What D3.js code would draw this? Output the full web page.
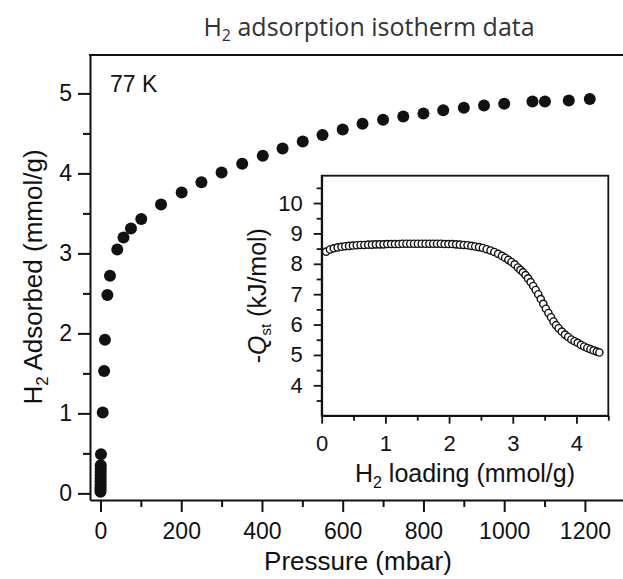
<!DOCTYPE html>
<html>
<head>
<meta charset="utf-8">
<script src="https://cdn.jsdelivr.net/npm/d3@7"></script>
<style>
  body { margin: 0; background: #fff; }
  svg { display: block; font-family: 'Liberation Sans', Arial, sans-serif; }
</style>
</head>
<body>
<script>
// isotherm data, 77 K (pressure in mbar, uptake in mmol/g)
const pressure = [0.05, 0.1, 0.15, 0.2, 0.25, 0.3, 0.35, 0.4, 0.5, 0.6, 1.2, 5.5, 9, 11,
  17, 23.5, 41.6, 57, 75.5, 101, 150, 201, 250, 300, 351, 402, 451, 501, 550, 600,
  649, 700, 750, 800, 849, 900, 950, 1000, 1070, 1101, 1160, 1212];
const adsorbed = [0.02, 0.05, 0.08, 0.11, 0.15, 0.19, 0.23, 0.27, 0.31, 0.35, 0.49, 1.01, 1.53, 1.92,
  2.48, 2.72, 3.05, 3.20, 3.31, 3.43, 3.61, 3.76, 3.89, 4.01, 4.12, 4.22, 4.31, 4.40, 4.48, 4.55,
  4.62, 4.67, 4.71, 4.75, 4.79, 4.82, 4.85, 4.87, 4.90, 4.90, 4.91, 4.93];

// inset: isosteric heat vs loading
const loading = [0.07, 0.13, 0.19, 0.25, 0.31, 0.37, 0.43, 0.49, 0.55, 0.61, 0.67, 0.73, 0.79, 0.85,
  0.91, 0.97, 1.03, 1.09, 1.15, 1.21, 1.27, 1.33, 1.39, 1.45, 1.51, 1.57, 1.63, 1.69, 1.75, 1.81,
  1.87, 1.93, 1.99, 2.05, 2.11, 2.17, 2.23, 2.29, 2.35, 2.41, 2.47, 2.53, 2.59, 2.65, 2.71, 2.77,
  2.83, 2.88, 2.93, 2.98, 3.03, 3.08, 3.12, 3.16, 3.20, 3.24, 3.28, 3.32, 3.36, 3.40, 3.44, 3.48,
  3.52, 3.56, 3.60, 3.64, 3.68, 3.72, 3.77, 3.82, 3.87, 3.92, 3.97, 4.02, 4.07, 4.12, 4.17, 4.22,
  4.27, 4.32, 4.36];
const qst = [8.40, 8.47, 8.51, 8.54, 8.56, 8.58, 8.59, 8.60, 8.61, 8.62, 8.62, 8.63, 8.63, 8.64,
  8.64, 8.64, 8.65, 8.65, 8.65, 8.65, 8.66, 8.66, 8.66, 8.66, 8.66, 8.66, 8.66, 8.66, 8.66, 8.66,
  8.66, 8.65, 8.65, 8.65, 8.64, 8.63, 8.62, 8.61, 8.59, 8.57, 8.55, 8.52, 8.48, 8.44, 8.39, 8.33,
  8.26, 8.20, 8.13, 8.06, 7.98, 7.88, 7.80, 7.72, 7.63, 7.52, 7.40, 7.27, 7.14, 7.00, 6.84, 6.68,
  6.52, 6.38, 6.24, 6.10, 5.98, 5.88, 5.77, 5.67, 5.59, 5.51, 5.45, 5.40, 5.33, 5.28, 5.23, 5.19,
  5.15, 5.11, 5.08];

const mainXTicks = [0, 200, 400, 600, 800, 1000, 1200];
const mainYTicks = [0, 1, 2, 3, 4, 5];
const insetXTicks = [0, 1, 2, 3, 4];
const insetYTicks = [4, 5, 6, 7, 8, 9, 10];

const svg = d3.select('body').append('svg').attr('width', 623).attr('height', 579);
const ink = '#111';
const fmt = d3.format('d');

// main scales
const x = d3.scaleLinear().domain([-26, 1300]).range([90, 625.3]);
const y = d3.scaleLinear().domain([-0.083, 5.48]).range([500, 55]);

// title
const title = svg.append('text')
  .attr('x', 369).attr('y', 36)
  .attr('text-anchor', 'middle')
  .style('font-family', "'Open Sans', sans-serif")
  .style('font-size', '25px')
  .attr('fill', '#333');
title.append('tspan').text('H');
title.append('tspan').text('2').style('font-size', '16px').attr('dy', 5);
title.append('tspan').text(' adsorption isotherm data').attr('dy', -5);

// main axes
function styleAxis(g, size) {
  g.select('.domain').attr('stroke', ink).attr('stroke-width', 2);
  g.selectAll('.tick line').attr('stroke', ink).attr('stroke-width', 2);
  g.selectAll('.tick text').attr('fill', ink).style('font-size', size + 'px').style('font-family', "'Liberation Sans', Arial, sans-serif");
}

const gx = svg.append('g').attr('transform', 'translate(0,500)')
  .call(d3.axisBottom(x).tickValues(mainXTicks).tickFormat(fmt).tickSize(12).tickPadding(11).tickSizeOuter(0));
styleAxis(gx, 23);
svg.append('g').attr('transform', 'translate(0,500)')
  .call(d3.axisBottom(x).tickValues(d3.range(100, 1400, 200)).tickSize(7).tickFormat('').tickSizeOuter(0))
  .call(g => { g.select('.domain').remove(); g.selectAll('line').attr('stroke', ink).attr('stroke-width', 2); });

const gy = svg.append('g').attr('transform', 'translate(90,0)')
  .call(d3.axisLeft(y).tickValues(mainYTicks).tickFormat(fmt).tickSize(12).tickPadding(6).tickSizeOuter(0));
styleAxis(gy, 23);
svg.append('g').attr('transform', 'translate(90,0)')
  .call(d3.axisLeft(y).tickValues([0.5, 1.5, 2.5, 3.5, 4.5]).tickSize(7).tickFormat('').tickSizeOuter(0))
  .call(g => { g.select('.domain').remove(); g.selectAll('line').attr('stroke', ink).attr('stroke-width', 2); });

// top frame line
svg.append('line').attr('x1', 89).attr('x2', 625).attr('y1', 55).attr('y2', 55)
  .attr('stroke', ink).attr('stroke-width', 2);

// axis titles
svg.append('text').attr('x', 358).attr('y', 570).attr('text-anchor', 'middle')
  .attr('fill', ink).style('font-size', '26px').text('Pressure (mbar)');

const yt = svg.append('text').attr('transform', 'translate(42,277) rotate(-90)')
  .attr('text-anchor', 'middle').attr('fill', ink).style('font-size', '26px');
yt.append('tspan').text('H');
yt.append('tspan').text('2').style('font-size', '17px').attr('dy', 6);
yt.append('tspan').text(' Adsorbed (mmol/g)').attr('dy', -6);

svg.append('text').attr('x', 110).attr('y', 92).attr('fill', ink)
  .style('font-size', '23px').text('77 K');

// main points
svg.append('g').selectAll('circle')
  .data(pressure.map((p, i) => [p, adsorbed[i]]))
  .join('circle')
  .attr('cx', d => x(d[0]))
  .attr('cy', d => y(d[1]))
  .attr('r', 6)
  .attr('fill', ink);

// inset
const ix = d3.scaleLinear().domain([0, 4.5]).range([321.7, 608.3]);
const iy = d3.scaleLinear().domain([3, 10.9]).range([415.7, 175.7]);

svg.append('rect')
  .attr('x', ix(0)).attr('y', iy(10.9))
  .attr('width', ix(4.5) - ix(0)).attr('height', iy(3) - iy(10.9))
  .attr('fill', '#fff').attr('stroke', ink).attr('stroke-width', 1.8);

const igx = svg.append('g').attr('transform', `translate(0,${iy(3)})`)
  .call(d3.axisBottom(ix).tickValues(insetXTicks).tickFormat(fmt).tickSize(8).tickPadding(12).tickSizeOuter(0));
styleAxis(igx, 22);
igx.selectAll('.domain, .tick line').attr('stroke-width', 1.8);
svg.append('g').attr('transform', `translate(0,${iy(3)})`)
  .call(d3.axisBottom(ix).tickValues([0.5, 1.5, 2.5, 3.5, 4.5]).tickSize(5).tickFormat('').tickSizeOuter(0))
  .call(g => { g.select('.domain').remove(); g.selectAll('line').attr('stroke', ink).attr('stroke-width', 1.8); });

const igy = svg.append('g').attr('transform', `translate(${ix(0)},0)`)
  .call(d3.axisLeft(iy).tickValues(insetYTicks).tickFormat(fmt).tickSize(8).tickPadding(11).tickSizeOuter(0));
styleAxis(igy, 22);
igy.selectAll('.domain, .tick line').attr('stroke-width', 1.8);
svg.append('g').attr('transform', `translate(${ix(0)},0)`)
  .call(d3.axisLeft(iy).tickValues(d3.range(3.5, 11, 1)).tickSize(5).tickFormat('').tickSizeOuter(0))
  .call(g => { g.select('.domain').remove(); g.selectAll('line').attr('stroke', ink).attr('stroke-width', 1.8); });

const ixt = svg.append('text').attr('x', 465).attr('y', 482).attr('text-anchor', 'middle')
  .attr('fill', ink).style('font-size', '25px');
ixt.append('tspan').text('H');
ixt.append('tspan').text('2').style('font-size', '16px').attr('dy', 6);
ixt.append('tspan').text(' loading (mmol/g)').attr('dy', -6);

const iyt = svg.append('text').attr('transform', `translate(266,${(iy(3) + iy(10.9)) / 2}) rotate(-90)`)
  .attr('text-anchor', 'middle').attr('fill', ink).style('font-size', '25px');
iyt.append('tspan').text('-');
iyt.append('tspan').text('Q').style('font-style', 'italic');
iyt.append('tspan').text('st').style('font-size', '15px').attr('dy', 5);
iyt.append('tspan').text(' (kJ/mol)').attr('dy', -5);

svg.append('g').selectAll('circle')
  .data(loading.map((l, i) => [l, qst[i]]))
  .join('circle')
  .attr('cx', d => ix(d[0]))
  .attr('cy', d => iy(d[1]))
  .attr('r', 3.6)
  .attr('fill', '#fff')
  .attr('stroke', ink)
  .attr('stroke-width', 1.4);
</script>
</body>
</html>
